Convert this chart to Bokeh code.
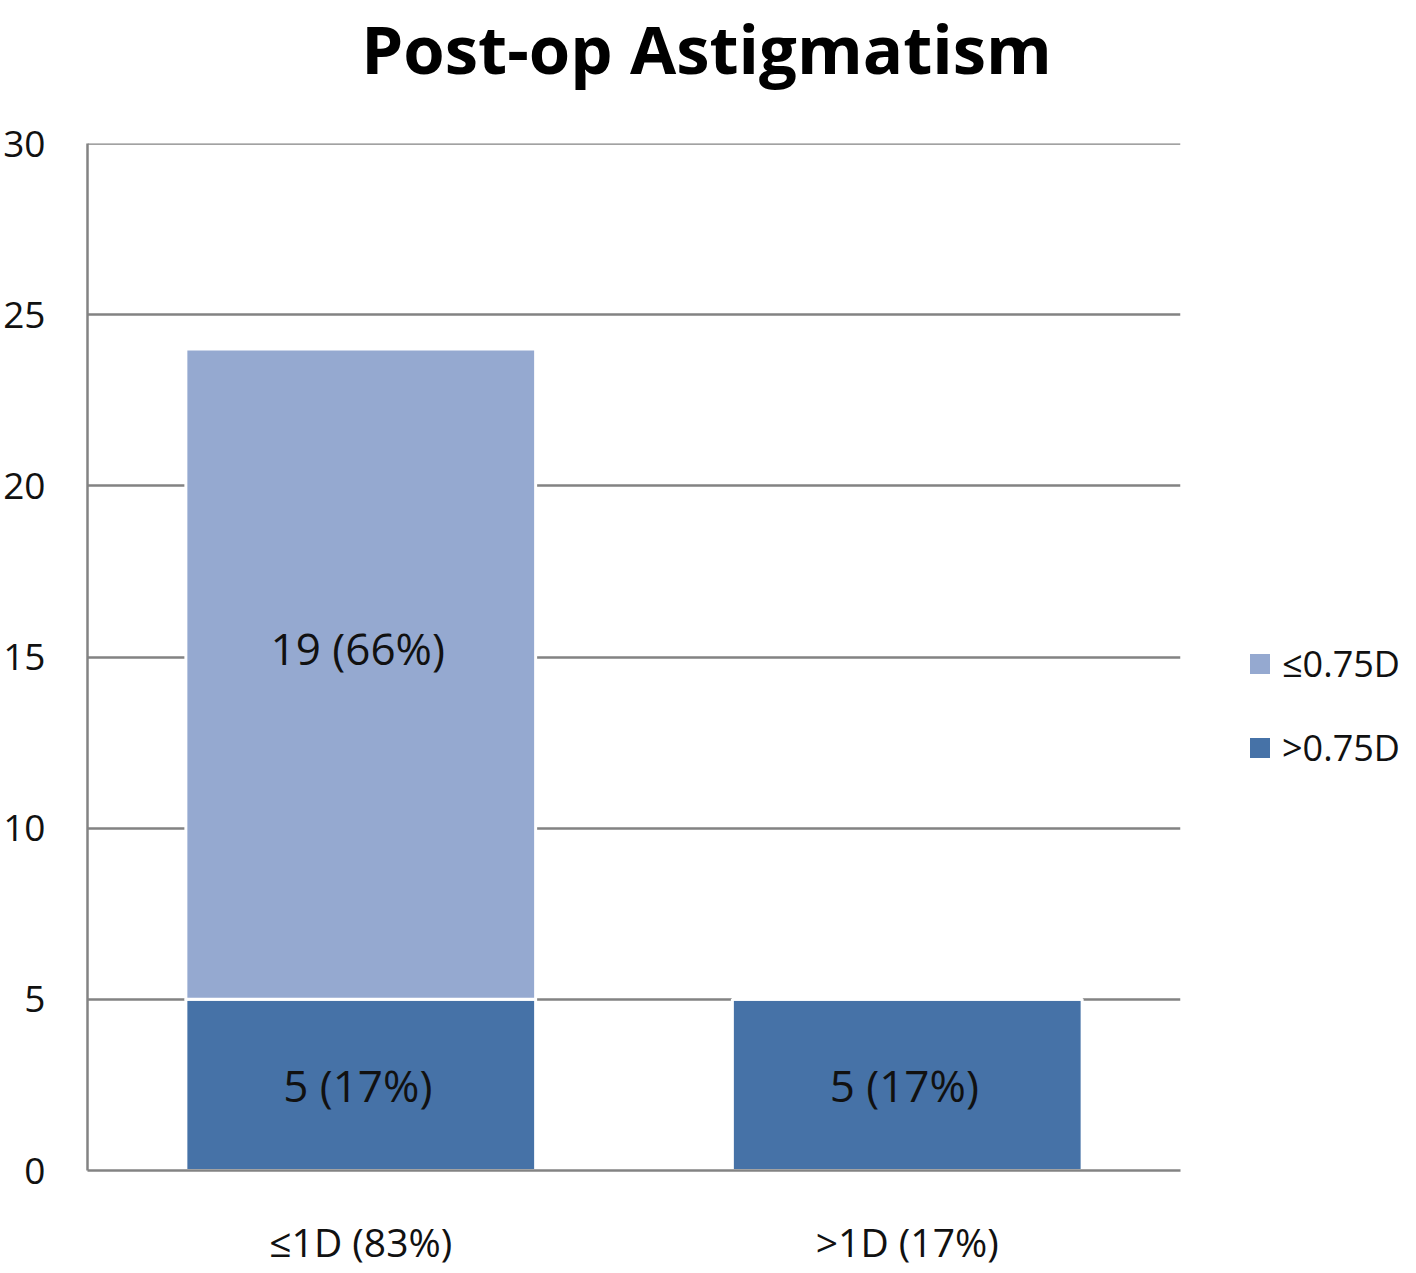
from bokeh.plotting import figure
from bokeh.models import (ColumnDataSource, Legend, LegendItem, LabelSet, Label, Span,
                          FixedTicker, FactorRange, Range1d)
from bokeh.layouts import row, column
from bokeh.core.properties import value
from bokeh.embed import file_html
from bokeh.resources import INLINE

# ---- data ----
title_text = "Post-op Astigmatism"
categories = ["≤1D (83%)", ">1D (17%)"]
series_names = ["≤0.75D", ">0.75D"]
le_075 = [19, 0]          # ≤0.75D counts
gt_075 = [5, 5]           # >0.75D counts
le_075_pct = [66, 0]
gt_075_pct = [17, 17]
y_ticks = [0, 5, 10, 15, 20, 25, 30]

FONT = "Open Sans"
LIGHT = "#95A9D0"
DARK = "#4672A7"
GRID = "#838383"
W_TOTAL = 1400
TITLE_H = 118
H = 1152

# ---- title strip ----
t = figure(width=W_TOTAL, height=TITLE_H, output_backend="svg", toolbar_location=None,
           x_range=Range1d(0, W_TOTAL), y_range=Range1d(0, TITLE_H),
           x_axis_location=None, y_axis_location=None,
           min_border_left=0, min_border_right=0, min_border_top=0, min_border_bottom=0)
t.grid.visible = False
t.outline_line_color = None
t.add_layout(Label(x=706, y=TITLE_H - 47, text=title_text, text_align="center",
                   text_baseline="middle", text_font=FONT, text_font_size="67px",
                   text_font_style="bold", text_color="black"))

# ---- main chart ----
src = ColumnDataSource(dict(cat=categories, gt=gt_075, le=le_075))

p = figure(x_range=FactorRange(*categories, range_padding=0),
           y_range=Range1d(y_ticks[0], y_ticks[-1]),
           width=1195, height=H,
           output_backend="svg", toolbar_location=None,
           min_border_left=80, min_border_right=15,
           min_border_top=25, min_border_bottom=90)

renderers = p.vbar_stack(["gt", "le"], x="cat", width=0.64, source=src,
                         color=[DARK, LIGHT], line_color="white", line_width=3)

p.xgrid.grid_line_color = None
p.ygrid.grid_line_color = GRID
p.ygrid.grid_line_width = 2.5
p.add_layout(Span(location=y_ticks[-1], dimension="width", line_color=GRID,
                  line_width=2.5, level="underlay"))
p.yaxis.ticker = FixedTicker(ticks=y_ticks)
for ax in (p.xaxis[0], p.yaxis[0]):
    ax.axis_line_color = GRID
    ax.axis_line_width = 2.5
    ax.major_tick_line_color = None
    ax.minor_tick_line_color = None
    ax.major_label_text_font = FONT
    ax.major_label_text_color = "#111111"
p.yaxis.major_label_text_font_size = "37px"
p.yaxis.major_label_standoff = 36
p.xaxis.major_label_text_font_size = "39px"
p.xaxis.major_label_standoff = 38
p.outline_line_color = None

# bar value labels
lab_x, lab_y, lab_t = [], [], []
for c, g, l, gp, lp in zip(categories, gt_075, le_075, gt_075_pct, le_075_pct):
    if g > 0:
        lab_x.append(c); lab_y.append(g / 2); lab_t.append(f"{g} ({gp}%)")
    if l > 0:
        lab_x.append(c); lab_y.append(g + l / 2 + 0.75); lab_t.append(f"{l} ({lp}%)")
lsrc = ColumnDataSource(dict(x=lab_x, y=lab_y, t=lab_t))
p.add_layout(LabelSet(x="x", y="y", text="t", source=lsrc, x_offset=-3,
                      text_align="center", text_baseline="middle",
                      text_font=value(FONT), text_font_size=value("44px"),
                      text_color="#111111"))

# ---- legend strip ----
q = figure(width=W_TOTAL - 1195, height=H, output_backend="svg", toolbar_location=None,
           x_range=Range1d(0, 1), y_range=Range1d(0, 1),
           x_axis_location=None, y_axis_location=None,
           min_border_left=0, min_border_right=0, min_border_top=0, min_border_bottom=0)
q.grid.visible = False
q.outline_line_color = None
swatch = ColumnDataSource(dict(x=[0.5], top=[0]))   # zero-height swatch bars
sw_le = q.vbar(x="x", top="top", width=0.1, source=swatch,
               fill_color=LIGHT, line_color=None)
sw_gt = q.vbar(x="x", top="top", width=0.1, source=swatch,
               fill_color=DARK, line_color=None)
legend = Legend(items=[LegendItem(label=series_names[0], renderers=[sw_le]),
                       LegendItem(label=series_names[1], renderers=[sw_gt])],
                location=(52, 398), padding=5, margin=0, spacing=35,
                glyph_width=25, glyph_height=25, label_standoff=10,
                label_text_font=FONT, label_text_font_size="36px",
                label_text_color="#111111",
                border_line_color=None, background_fill_alpha=0)
q.add_layout(legend, "center")

layout = column(t, row(p, q, spacing=0), spacing=0)
open("out.html", "w").write(file_html(layout, INLINE))
